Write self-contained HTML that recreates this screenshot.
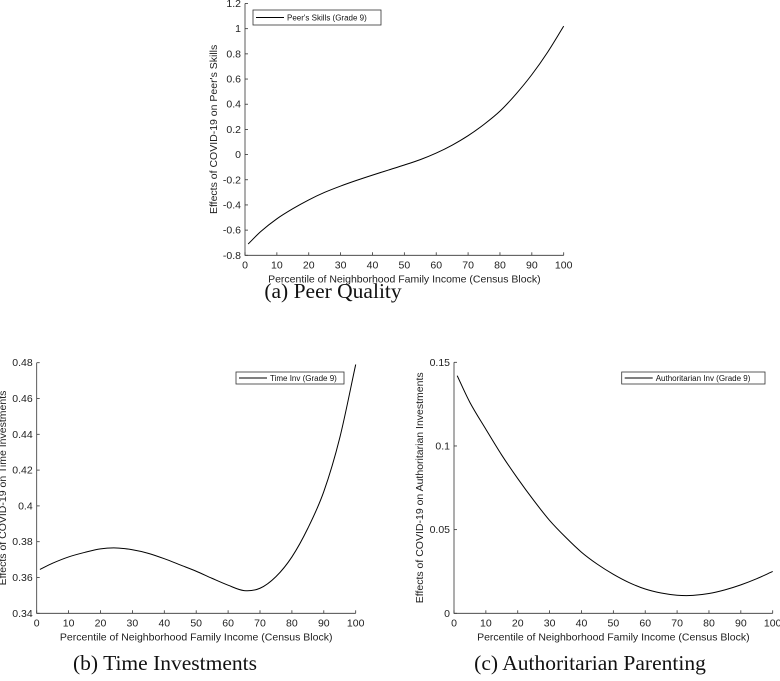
<!DOCTYPE html>
<html><head><meta charset="utf-8"><style>
body{margin:0;background:#fff;}
svg{display:block;font-family:"Liberation Sans",Arial,sans-serif;}
.cap{font-family:"Liberation Serif","Times New Roman",serif;font-size:21.5px;}
</style></head><body>
<svg id="fig" width="780" height="681" viewBox="0 0 780 681" xmlns="http://www.w3.org/2000/svg"></svg>
<script>
const xs = [1,5,10,15,20,25,30,35,40,45,50,55,60,65,70,75,80,85,90,95,100];
const peerVals = [-0.71,-0.61,-0.51,-0.43,-0.36,-0.30,-0.25,-0.205,-0.163,-0.123,-0.083,-0.04,0.012,0.075,0.15,0.24,0.345,0.48,0.635,0.815,1.02];
const timeVals = [0.3645,0.368,0.3715,0.374,0.376,0.3765,0.3755,0.3735,0.3705,0.367,0.3635,0.3595,0.3557,0.3527,0.354,0.3605,0.3715,0.3875,0.408,0.438,0.479];
const authVals = [0.142,0.126,0.110,0.0945,0.0805,0.0675,0.0555,0.0455,0.0365,0.0293,0.0233,0.0183,0.0145,0.0121,0.0108,0.0107,0.0118,0.0140,0.0170,0.0207,0.025];
const xTicks = [0,10,20,30,40,50,60,70,80,90,100];
const peerTicks = [-0.8,-0.6,-0.4,-0.2,0,0.2,0.4,0.6,0.8,1,1.2];
const timeTicks = [0.34,0.36,0.38,0.4,0.42,0.44,0.46,0.48];
const authTicks = [0,0.05,0.1,0.15];

const NS="http://www.w3.org/2000/svg";
const svg=document.getElementById('fig');
function mk(tag,attrs,parent,text){const e=document.createElementNS(NS,tag);for(const k in attrs)e.setAttribute(k,attrs[k]);if(text!==undefined)e.textContent=text;(parent||svg).appendChild(e);return e;}

function panel(cfg){
  const g=mk('g',{});
  
  
  const X=v=>cfg.x0+(v-0)/(100-0)*(cfg.x1-cfg.x0);
  const Y=v=>cfg.yb+(v-cfg.ymin)/(cfg.ymax-cfg.ymin)*(cfg.yt-cfg.yb);
  const ax=mk('path',{d:`M${cfg.x0},${cfg.yt}V${cfg.yb}H${cfg.x1}`,stroke:'#333',fill:'none','stroke-width':0.8},g);
  
  
  xTicks.forEach(t=>{
    const x=X(t);
    mk('line',{x1:x,x2:x,y1:cfg.yb,y2:cfg.yb-3,stroke:'#333','stroke-width':0.8},g);
    const tl=mk('text',{x:x,y:cfg.yb+13,'text-anchor':'middle','font-size':10.5,fill:'#222'},g,String(t));
    
    
  });
  cfg.yTicks.forEach(t=>{
    const y=Y(t);
    mk('line',{x1:cfg.x0,x2:cfg.x0+3,y1:y,y2:y,stroke:'#333','stroke-width':0.8},g);
    const tl=mk('text',{x:cfg.x0-4,y:y+3.5,'text-anchor':'end','font-size':10.5,fill:'#222'},g,String(t));
    
    
  });
  const pts=xs.map((v,i)=>[X(v),Y(cfg.vals[i])]);
  let d=`M${pts[0][0]},${pts[0][1]}`;
  for(let i=0;i<pts.length-1;i++){
    const p0=pts[Math.max(0,i-1)],p1=pts[i],p2=pts[i+1],p3=pts[Math.min(pts.length-1,i+2)];
    const h=p2[0]-p1[0];
    const s1=(p2[1]-p0[1])/(p2[0]-p0[0]), s2=(p3[1]-p1[1])/(p3[0]-p1[0]);
    d+=`C${p1[0]+h/3},${p1[1]+s1*h/3} ${p2[0]-h/3},${p2[1]-s2*h/3} ${p2[0]},${p2[1]}`;
  }
  const line=mk('path',{d:d,stroke:'#000',fill:'none','stroke-width':1},g);
  
  
  const xl=mk('text',{x:(cfg.x0+cfg.x1)/2,y:cfg.yb+27,'text-anchor':'middle','font-size':10.5,fill:'#222'},g,'Percentile of Neighborhood Family Income (Census Block)');
  
  
  const yc=(cfg.yt+cfg.yb)/2;
  const yl=mk('text',{x:cfg.ylx,y:yc,'text-anchor':'middle','font-size':10.5,fill:'#222',transform:`rotate(-90 ${cfg.ylx} ${yc})`},g,cfg.ylabel);
  
  
  const lg=mk('g',{},g);
  
  
  const L=cfg.leg;
  mk('rect',{x:L[0],y:L[1],width:L[2]-L[0],height:L[3]-L[1],fill:'#fff',stroke:'#333','stroke-width':0.8},lg);
  const my=(L[1]+L[3])/2;
  mk('line',{x1:L[0]+3,x2:L[0]+31,y1:my,y2:my,stroke:'#000','stroke-width':1},lg);
  mk('text',{x:L[0]+34,y:my+3,'font-size':8,fill:'#111'},lg,cfg.legText);
  const c=mk('text',{x:cfg.capX,y:cfg.capY,'text-anchor':'middle',class:'cap',fill:'#111'},g,cfg.caption);
  
  
}

panel({name:'panel-a-peer-quality',x0:245,x1:563.7,yt:3.5,yb:255.3,ymin:-0.8,ymax:1.2,yTicks:peerTicks,vals:peerVals,
  ylabel:"Effects of COVID-19 on Peer's Skills",ylx:217,leg:[253,10,381,25],legText:"Peer's Skills (Grade 9)",caption:'(a) Peer Quality',capX:333,capY:298});
panel({name:'panel-b-time-investments',x0:36.7,x1:355.7,yt:362.7,yb:613.3,ymin:0.34,ymax:0.48,yTicks:timeTicks,vals:timeVals,
  ylabel:'Effects of COVID-19 on Time Investments',ylx:6,leg:[236,372,344,384],legText:'Time Inv (Grade 9)',caption:'(b) Time Investments',capX:165,capY:670});
panel({name:'panel-c-authoritarian-parenting',x0:454,x1:772.7,yt:362.3,yb:613.3,ymin:0,ymax:0.15,yTicks:authTicks,vals:authVals,
  ylabel:'Effects of COVID-19 on Authoritarian Investments',ylx:423,leg:[621.7,372,765,384],legText:'Authoritarian Inv (Grade 9)',caption:'(c) Authoritarian Parenting',capX:590,capY:670});
</script>
</body></html>
